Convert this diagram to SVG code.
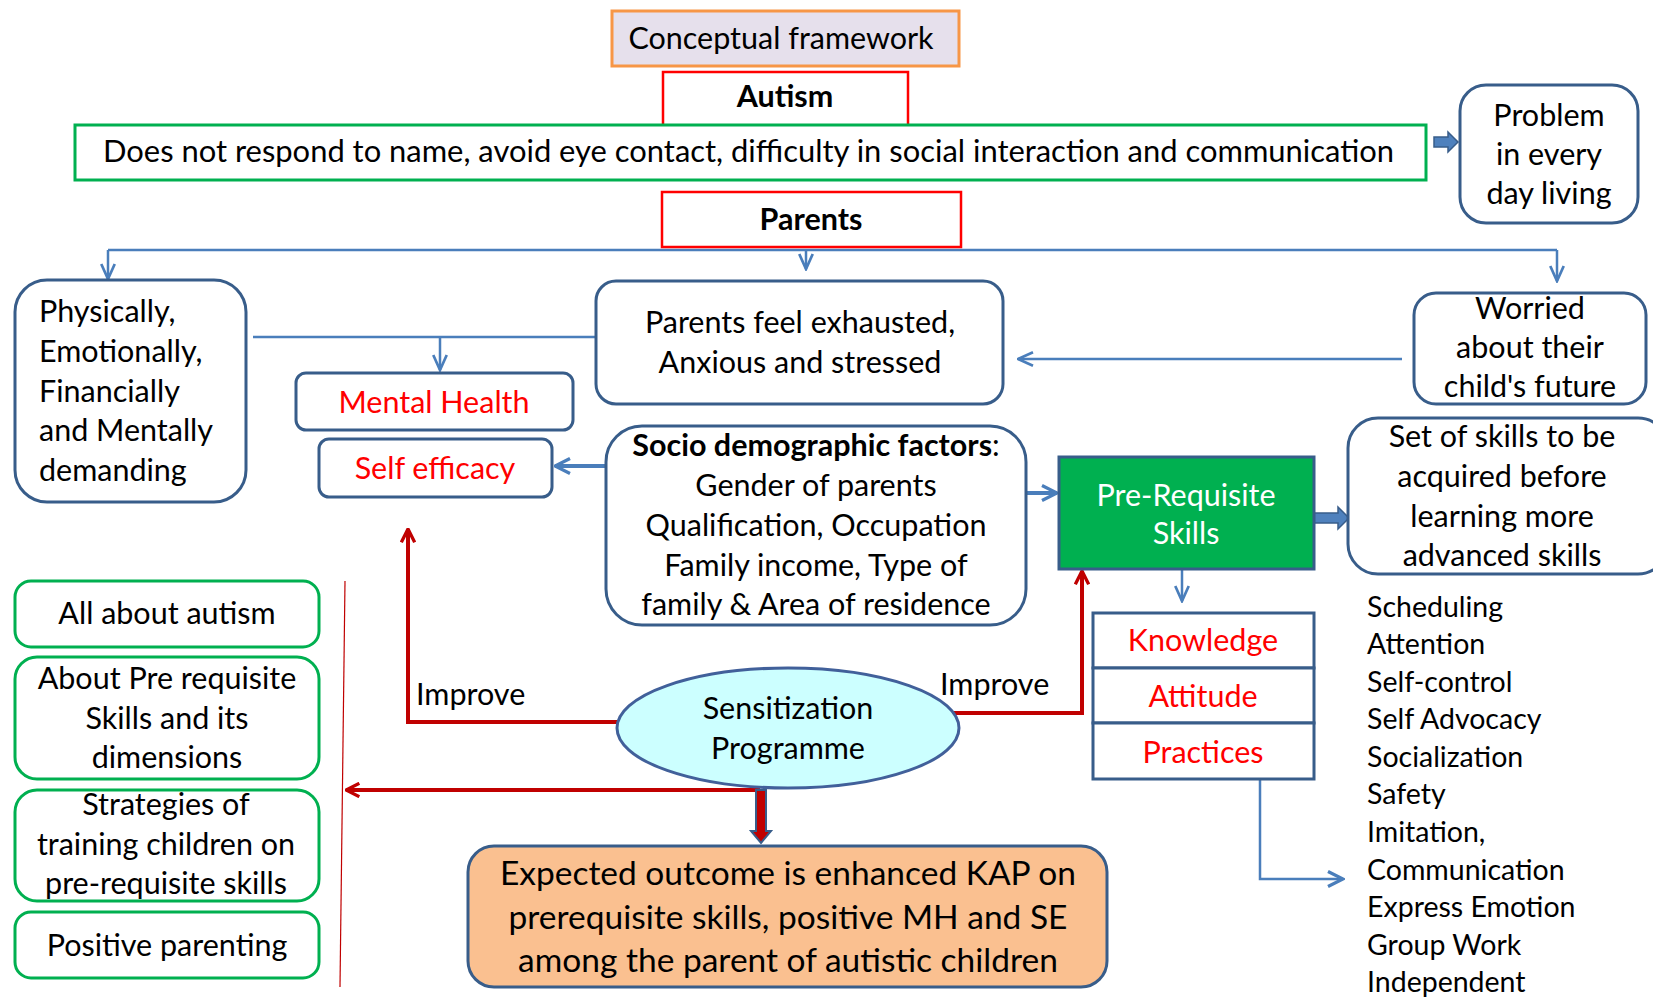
<svg xmlns="http://www.w3.org/2000/svg" width="1653" height="998" viewBox="0 0 1653 998">
<defs>
<style>
text{font-family:Lato,"Open Sans","Liberation Sans",sans-serif;font-size:30.5px;fill:#000}
.c{text-anchor:middle}
.b{font-weight:bold}
.r{fill:#ff0000}
.w{fill:#ffffff}
.li{font-size:28.5px}
.ex{font-size:33.5px}
.nb{fill:#fff;stroke:#385d8a;stroke-width:3}
.gb{fill:#fff;stroke:#00b050;stroke-width:3}
.rb{fill:#fff;stroke:#ff0000;stroke-width:2.5}
.bl{fill:none;stroke:#4a7ebb;stroke-width:2.5}
.blt{fill:none;stroke:#4a7ebb;stroke-width:4}
.rd{fill:none;stroke:#c00000;stroke-width:4}
</style>
<marker id="ab" viewBox="0 0 12 12" refX="11" refY="6" markerWidth="18" markerHeight="18" markerUnits="userSpaceOnUse" orient="auto">
<path d="M1,1.5 L11,6 L1,10.5" fill="none" stroke="#4a7ebb" stroke-width="1.8"/>
</marker>
<marker id="abt" viewBox="0 0 12 12" refX="11" refY="6" markerWidth="18" markerHeight="18" markerUnits="userSpaceOnUse" orient="auto">
<path d="M1,1 L11,6 L1,11" fill="none" stroke="#4a7ebb" stroke-width="2.2"/>
</marker>
<marker id="ar" viewBox="0 0 12 12" refX="11" refY="6" markerWidth="16" markerHeight="16" markerUnits="userSpaceOnUse" orient="auto">
<path d="M1,1 L11,6 L1,11" fill="none" stroke="#c00000" stroke-width="2.5"/>
</marker>
</defs>
<rect width="1653" height="998" fill="#fff"/>

<g id="connectors">
<path class="bl" d="M108,250 H1557"/>
<path class="bl" d="M108,250 V279" marker-end="url(#ab)"/>
<path class="bl" d="M806,250 V269" marker-end="url(#ab)"/>
<path class="bl" d="M1557,250 V281" marker-end="url(#ab)"/>
<path class="bl" d="M253,337 H596"/>
<path class="bl" d="M440,337 V370" marker-end="url(#ab)"/>
<path class="bl" d="M1402,359 H1018" marker-end="url(#ab)"/>
<path class="blt" d="M606,466 H555" marker-end="url(#abt)"/>
<path class="blt" d="M1026,493 H1057" marker-end="url(#abt)"/>
<path class="bl" d="M1182,569 V601" marker-end="url(#ab)"/>
<path class="bl" d="M1260,779 V879 H1343" marker-end="url(#abt)"/>
<path class="rd" d="M617,722 H408 V529" marker-end="url(#ar)"/>
<path class="rd" d="M952,713 H1082 V571" marker-end="url(#ar)"/>
<path class="rd" d="M760,790 H346" marker-end="url(#ar)"/>
<path d="M345,581 L340,987" stroke="#c00000" stroke-width="1.2" fill="none"/>
<path d="M1434,137 H1448 V132 L1458,142 L1448,152 V147 H1434 Z" fill="#4f81bd" stroke="#385d8a" stroke-width="1.5"/>
<path d="M1314,513 H1338 V507 L1349,518 L1338,529 V523 H1314 Z" fill="#4f81bd" stroke="#385d8a" stroke-width="1.5"/>
<path d="M756,790 H766 V831 H771 L761,843 L751,831 H756 Z" fill="#c00000" stroke="#385d8a" stroke-width="2"/>
</g>

<g id="title">
<rect x="612" y="11" width="347" height="55" fill="#e6e0ec" stroke="#f79646" stroke-width="3"/>
<text class="c" x="781" y="49">Conceptual framework</text>
</g>
<g id="autism">
<rect class="rb" x="663" y="72" width="245" height="58"/>
<text class="c b" x="785" y="107">Autism</text>
</g>
<g id="symptoms">
<rect class="gb" x="75" y="125" width="1351" height="55"/>
<text x="103" y="162" textLength="1291" lengthAdjust="spacingAndGlyphs">Does not respond to name, avoid eye contact, difficulty in social interaction and communication</text>
</g>
<g id="problem">
<rect class="nb" x="1460" y="85" width="178" height="138" rx="26"/>
<text class="c" x="1549" y="126">Problem</text>
<text class="c" x="1549" y="165">in every</text>
<text class="c" x="1549" y="204">day living</text>
</g>
<g id="parents">
<rect class="rb" x="662" y="192" width="299" height="55"/>
<text class="c b" x="811" y="230">Parents</text>
</g>
<g id="physically">
<rect class="nb" x="15" y="280" width="231" height="222" rx="32"/>
<text x="39" y="322">Physically,</text>
<text x="39" y="362">Emotionally,</text>
<text x="39" y="402">Financially</text>
<text x="39" y="441">and Mentally</text>
<text x="39" y="481">demanding</text>
</g>
<g id="exhausted">
<rect class="nb" x="596" y="281" width="407" height="123" rx="20"/>
<text class="c" x="800" y="333">Parents feel exhausted,</text>
<text class="c" x="800" y="373">Anxious and stressed</text>
</g>
<g id="worried">
<rect class="nb" x="1414" y="293" width="232" height="111" rx="22"/>
<text class="c" x="1530" y="319">Worried</text>
<text class="c" x="1530" y="358">about their</text>
<text class="c" x="1530" y="397">child's future</text>
</g>
<g id="mental-health">
<rect class="nb" x="296" y="373" width="277" height="57" rx="10"/>
<text class="c r" x="434" y="413">Mental Health</text>
</g>
<g id="self-efficacy">
<rect class="nb" x="319" y="439" width="233" height="58" rx="10"/>
<text class="c r" x="435" y="479">Self efficacy</text>
</g>
<g id="socio">
<rect class="nb" x="606" y="426" width="420" height="199" rx="36"/>
<text class="c" x="816" y="456"><tspan class="b">Socio demographic factors</tspan>:</text>
<text class="c" x="816" y="496">Gender of parents</text>
<text class="c" x="816" y="536">Qualification, Occupation</text>
<text class="c" x="816" y="576">Family income, Type of</text>
<text class="c" x="816" y="615">family &amp; Area of residence</text>
</g>
<g id="prerequisite">
<rect x="1059" y="457" width="255" height="112" fill="#00b050" stroke="#385d8a" stroke-width="3"/>
<text class="c w" x="1186" y="506">Pre-Requisite</text>
<text class="c w" x="1186" y="544">Skills</text>
</g>
<g id="set-of-skills">
<rect class="nb" x="1348" y="418" width="320" height="156" rx="30"/>
<text class="c" x="1502" y="447">Set of skills to be</text>
<text class="c" x="1502" y="487">acquired before</text>
<text class="c" x="1502" y="527">learning more</text>
<text class="c" x="1502" y="566">advanced skills</text>
</g>
<g id="kap">
<rect class="nb" x="1093" y="613" width="221" height="55"/>
<text class="c r" x="1203" y="651">Knowledge</text>
<rect class="nb" x="1093" y="668" width="221" height="55"/>
<text class="c r" x="1203" y="707">Attitude</text>
<rect class="nb" x="1093" y="723" width="221" height="56"/>
<text class="c r" x="1203" y="763">Practices</text>
</g>
<g id="skills-list">
<text class="li" x="1367" y="617">Scheduling</text>
<text class="li" x="1367" y="654">Attention</text>
<text class="li" x="1367" y="692">Self-control</text>
<text class="li" x="1367" y="729">Self Advocacy</text>
<text class="li" x="1367" y="767">Socialization</text>
<text class="li" x="1367" y="804">Safety</text>
<text class="li" x="1367" y="842">Imitation,</text>
<text class="li" x="1367" y="880">Communication</text>
<text class="li" x="1367" y="917">Express Emotion</text>
<text class="li" x="1367" y="955">Group Work</text>
<text class="li" x="1367" y="992">Independent</text>
</g>
<g id="improve-labels">
<text x="416" y="705">Improve</text>
<text x="940" y="695">Improve</text>
</g>
<g id="sensitization">
<ellipse cx="788" cy="728" rx="171" ry="60" fill="#ccffff" stroke="#41609a" stroke-width="3"/>
<text class="c" x="788" y="719">Sensitization</text>
<text class="c" x="788" y="759">Programme</text>
</g>
<g id="expected">
<rect x="468" y="846" width="639" height="141" rx="26" fill="#fac090" stroke="#385d8a" stroke-width="3"/>
<text class="c ex" x="788" y="885">Expected outcome is enhanced KAP on</text>
<text class="c ex" x="788" y="929">prerequisite skills, positive MH and SE</text>
<text class="c ex" x="788" y="972">among the parent of autistic children</text>
</g>
<g id="all-about-autism">
<rect class="gb" x="15" y="581" width="304" height="66" rx="16"/>
<text class="c" x="167" y="624">All about autism</text>
</g>
<g id="about-prerequisite">
<rect class="gb" x="15" y="657" width="304" height="122" rx="22"/>
<text class="c" x="167" y="689">About Pre requisite</text>
<text class="c" x="167" y="729">Skills and its</text>
<text class="c" x="167" y="768">dimensions</text>
</g>
<g id="strategies">
<rect class="gb" x="15" y="790" width="304" height="111" rx="22"/>
<text class="c" x="166" y="815">Strategies of</text>
<text class="c" x="166" y="855">training children on</text>
<text class="c" x="166" y="894">pre-requisite skills</text>
</g>
<g id="positive-parenting">
<rect class="gb" x="15" y="912" width="304" height="66" rx="16"/>
<text class="c" x="167" y="956">Positive parenting</text>
</g>
</svg>
